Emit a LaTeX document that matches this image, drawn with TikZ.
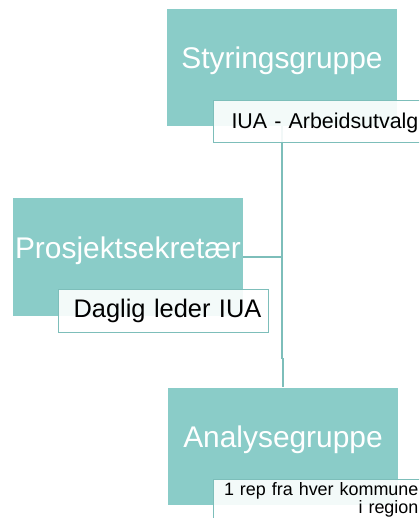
\documentclass[tikz,border=0pt]{standalone}
\usepackage{fontspec}
\setmainfont{Liberation Sans}
\usetikzlibrary{backgrounds}
\definecolor{boxteal}{RGB}{138,204,200}
\definecolor{lineteal}{RGB}{125,190,186}

\tikzset{
  mainbox/.style={rectangle, fill=boxteal, text=white, minimum width=230bp, minimum height=117bp,
    inner sep=0pt, text height=59.5bp, text depth=57.5bp, font=\fontsize{30}{36}\selectfont},
  subbox/.style={rectangle, draw=lineteal, line width=0.8bp, fill=white, fill opacity=0.9, text opacity=1,
    anchor=north west, inner xsep=7bp, inner ysep=0pt, text width=198bp, align=right,
    minimum height=42.5bp, text height=28.5bp, text depth=14bp, font=\fontsize{21.5}{26}\selectfont},
  link/.style={draw=lineteal, line width=1.2bp}
}

\begin{document}
\begin{tikzpicture}[x=1bp, y=-1bp]
    \useasboundingbox (0,0) rectangle (419,518);
    \clip (0,0) rectangle (419,518);

    % hovedboksene
    \node[mainbox] (styr) at (282,67.5) {Styringsgruppe};
    \node[mainbox] (pros) at (128,257) {Prosjektsekret\ae r};
    \node[mainbox] (anal) at (283,446) {Analysegruppe};

    % underboksene
    \node[subbox] (iua) at (213,100) {IUA - Arbeidsutvalg};
    \node[subbox, text width=196bp, font=\fontsize{25.5}{30}\selectfont] (daglig) at (58,289) {Daglig leder IUA};
    \node[subbox, text height=16bp, text depth=27bp, font=\fontsize{18}{18}\selectfont] (rep) at (213,479)
        {1 rep fra hver kommune\\ i region};

    \begin{scope}[on background layer]
        \draw[link] (styr.south) -- ++(0,232) -| (anal.north);
        \draw[link] (pros.east) -- (pros.east -| styr.south);
    \end{scope}
\end{tikzpicture}
\end{document}
